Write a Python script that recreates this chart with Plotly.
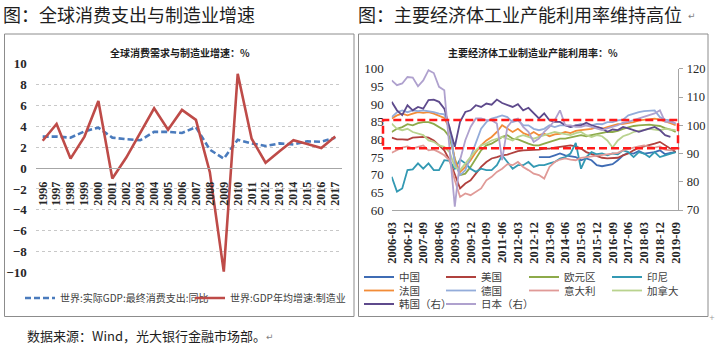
import plotly.graph_objects as go

W, H = 716, 356


def px(x):
    return x / W


def py(y):
    return 1 - y / H


# ---------------- left chart data ----------------
years = ["1996", "1997", "1998", "1999", "2000", "2001", "2002", "2003", "2004", "2005", "2006",
         "2007", "2008", "2009", "2010", "2011", "2012", "2013", "2014", "2015", "2016", "2017"]
consumption = [3.0, 3.0, 2.9, 3.5, 3.85, 2.9, 2.75, 2.65, 3.45, 3.45, 3.35,
               3.9, 1.75, 0.9, 2.7, 2.35, 2.1, 2.35, 2.25, 2.55, 2.5, 2.9]
manufacturing = [2.6, 4.2, 0.9, 3.0, 6.4, -1.0, 1.0, 3.4, 5.7, 3.65, 5.55,
                 4.6, -0.4, -9.9, 9.0, 2.8, 0.5, 1.6, 2.65, 2.3, 1.9, 3.0]

# ---------------- right chart data ----------------
quarters = [f"{y}-{m:02d}" for y in range(2006, 2020) for m in (3, 6, 9, 12)][:55]
quarter_ticks = quarters[::3]

china = [None] * 28 + [
    75.0, 75.0, 75.0, 75.5,
    76.0, 75.5, 75.2, 75.0,
    74.1, 74.6, 74.1, 72.7,
    72.4, 72.7, 73.0, 74.1,
    75.5, 76.2, 76.0, 76.7,
    76.0, 76.2, 76.4, 76.9,
    75.8, 76.2, 76.4]
usa = [80.5, 80.0, 80.0, 79.9,
       80.5, 80.7, 80.7, 80.5,
       79.7, 78.3, 76.9, 74.1,
       69.9, 66.1, 67.5, 68.4,
       70.3, 72.2, 73.6, 74.6,
       75.0, 75.5, 75.7, 76.2,
       76.7, 76.9, 76.9, 77.1,
       77.1, 77.4, 77.4, 77.7,
       77.9, 78.3, 78.3, 78.0,
       77.4, 76.4, 75.8, 75.2,
       74.8, 74.6, 74.6, 74.8,
       75.5, 76.0, 76.9, 77.7,
       78.0, 78.3, 78.8, 79.3,
       78.3, 77.4, 76.4]
euro = [82.1, 83.0, 83.5, 84.3,
        84.0, 84.6, 84.9, 84.9,
        84.4, 83.5, 82.6, 80.7,
        74.6, 69.9, 70.3, 72.2,
        74.6, 76.9, 78.3, 78.8,
        79.7, 80.7, 81.2, 80.2,
        80.0, 79.3, 78.8, 78.3,
        78.3, 78.8, 79.3, 79.7,
        80.2, 80.2, 80.5, 80.7,
        81.2, 80.9, 81.2, 81.4,
        81.6, 82.1, 82.1, 82.4,
        83.0, 83.5, 83.8, 84.0,
        84.2, 84.2, 84.0, 83.8,
        83.2, 82.8, 82.1]
indonesia = [69.4, 65.2, 66.1, 71.3,
             71.5, 73.2, 71.7, 73.2,
             71.3, 71.3, 74.1, 73.9,
             71.7, 74.3, 73.2, 71.7,
             70.8, 71.7, 71.3, 71.3,
             72.7, 75.5, 73.6, 71.7,
             72.7, 72.7, 73.6, 72.2,
             72.7, 72.7, 73.2, 73.6,
             74.6, 75.0, 76.0, 79.0,
             71.7, 75.0, 76.4, 75.8,
             76.0, 75.5, 76.0, 75.8,
             76.9, 76.4, 75.0, 76.4,
             76.0, 75.0, 76.4, 75.0,
             75.5, 76.0, 76.4]
france = [85.9, 86.8, 87.3, 86.8,
          87.3, 87.7, 87.5, 87.7,
          87.3, 86.8, 86.1, 83.0,
          74.1, 70.8, 72.2, 74.1,
          76.4, 78.3, 79.7, 80.7,
          82.1, 84.0, 83.0, 82.1,
          83.0, 81.8, 81.2, 82.1,
          81.2, 81.6, 80.9, 81.4,
          81.6, 82.1, 81.8, 82.4,
          82.6, 82.8, 83.0, 83.5,
          83.0, 83.5, 84.0, 84.3,
          84.4, 84.6, 84.9, 85.4,
          85.6, 85.9, 85.9, 85.6,
          85.2, 84.6, 84.0]
germany = [86.3, 87.7, 88.2, 87.7,
           88.2, 88.0, 88.2, 88.0,
           87.7, 87.3, 87.1, 83.5,
           73.2, 69.9, 71.3, 75.0,
           79.3, 83.0, 84.9, 85.9,
           86.3, 86.8, 86.3, 84.9,
           85.4, 84.0, 84.0, 83.0,
           82.6, 83.0, 84.0, 83.5,
           84.0, 84.0, 83.5, 84.0,
           84.4, 84.0, 84.0, 84.4,
           84.3, 84.9, 84.9, 85.4,
           85.6, 86.8, 87.3, 87.7,
           88.0, 88.0, 88.2, 86.3,
           85.6, 85.4, 84.4]
italy = [76.2, 76.9, 77.7, 78.0,
         77.4, 77.9, 78.3, 76.9,
         77.1, 76.4, 75.5, 74.1,
         68.4, 63.7, 64.7, 64.2,
         65.1, 66.1, 68.4, 69.4,
         70.8, 71.7, 73.0, 72.7,
         73.6, 72.2, 71.3, 70.3,
         69.9, 68.9, 72.2, 73.6,
         74.3, 74.6, 74.3, 74.1,
         74.8, 75.0, 75.3, 75.5,
         75.7, 75.8, 76.0, 76.2,
         76.9, 77.4, 77.7, 78.0,
         78.3, 77.9, 77.7, 78.0,
         77.1, 76.9, 77.4]
canada = [84.5, 83.0, 82.6, 83.0,
          82.1, 81.6, 81.2, 79.7,
          79.3, 78.3, 77.9, 76.4,
          72.2, 71.3, 73.2, 75.0,
          76.9, 78.3, 78.8, 79.7,
          80.2, 80.7, 80.2, 79.7,
          80.7, 81.2, 80.7, 80.2,
          80.7, 81.2, 81.6, 82.1,
          81.8, 81.6, 81.2, 81.8,
          82.1, 81.2, 80.7, 81.2,
          80.9, 79.7, 77.7, 79.7,
          80.9, 81.4, 82.1, 82.4,
          82.8, 83.0, 82.8, 82.6,
          83.0, 82.8, 82.6]
korea = [108.3, 105.3, 103.6, 107.1,
         105.3, 106.5, 105.9, 108.9,
         109.1, 108.3, 105.9, 99.4,
         92.4, 101.2, 104.7, 105.3,
         107.1, 106.5, 107.7, 107.3,
         109.1, 107.9, 107.1, 106.5,
         107.5, 105.3, 106.2, 104.2,
         102.4, 104.2, 101.8, 101.2,
         101.2, 100.0, 99.4, 100.0,
         100.0, 100.9, 100.0, 99.4,
         98.9, 97.7, 98.5, 98.3,
         99.4, 98.9, 98.3, 97.7,
         98.3, 98.9, 99.4, 98.3,
         96.5, 95.9, None]
japan = [115.9, 114.2, 114.8, 117.1,
         116.9, 113.8, 115.9, 119.5,
         118.5, 113.6, 112.4, 93.0,
         71.2, 87.7, 94.7, 99.4,
         102.4, 102.4, 101.8, 101.8,
         100.6, 87.7, 99.4, 101.8,
         102.4, 99.4, 97.7, 94.1,
         95.3, 97.7, 99.4, 101.8,
         105.3, 100.0, 100.0, 99.4,
         99.4, 100.0, 99.4, 98.9,
         98.3, 98.9, 99.4, 100.0,
         100.9, 101.2, 101.8, 102.4,
         103.2, 103.6, 104.2, 105.3,
         101.2, 101.2, 100.6]

CJK = "Noto Sans CJK SC"
SERIF = "Liberation Serif"

fig = go.Figure()

# ---------------- left chart traces ----------------
fig.add_trace(go.Scatter(
    x=years, y=consumption, mode="lines", name="世界:实际GDP:最终消费支出:同比",
    line=dict(color="#4A7BBD", width=2.6, dash="6px,3px"),
    xaxis="x", yaxis="y", legend="legend"))
fig.add_trace(go.Scatter(
    x=years, y=manufacturing, mode="lines", name="世界:GDP年均增速:制造业",
    line=dict(color="#BE4B48", width=2.6),
    xaxis="x", yaxis="y", legend="legend2"))

# ---------------- right chart traces ----------------
right_series = [
    ("中国", china, "#3F6CB4", "y2"),
    ("美国", usa, "#B0413E", "y2"),
    ("欧元区", euro, "#8DAA4A", "y2"),
    ("印尼", indonesia, "#3399B3", "y2"),
    ("法国", france, "#F28C38", "y2"),
    ("德国", germany, "#93ACDA", "y2"),
    ("意大利", italy, "#E09A97", "y2"),
    ("加拿大", canada, "#B9D38E", "y2"),
    ("韩国（右）", korea, "#5E4A8C", "y3"),
    ("日本（右）", japan, "#AFA1CE", "y3"),
]

legend_cols = [399, 481, 564, 647]
legend_rows = [277, 290.5, 304]
legends = {}

for k, (name, vals, color, yax) in enumerate(right_series):
    lg = f"legend{k + 3}"
    fig.add_trace(go.Scatter(
        x=quarters, y=vals, mode="lines", name=name,
        line=dict(color=color, width=1.8),
        xaxis="x2", yaxis=yax, legend=lg, connectgaps=False))
    legends[lg] = dict(
        x=px(legend_cols[k % 4] - 40), y=py(legend_rows[k // 4]),
        xanchor="left", yanchor="middle", orientation="h",
        bgcolor="rgba(0,0,0,0)", borderwidth=0, itemwidth=30,
        font=dict(family=CJK, size=10.5, color="#404040"))

legends["legend"] = dict(
    x=px(60 - 40), y=py(298), xanchor="left", yanchor="middle", orientation="h",
    bgcolor="rgba(0,0,0,0)", borderwidth=0, itemwidth=30,
    font=dict(family=CJK, size=10, color="#404040"))
legends["legend2"] = dict(
    x=px(230 - 40), y=py(298), xanchor="left", yanchor="middle", orientation="h",
    bgcolor="rgba(0,0,0,0)", borderwidth=0, itemwidth=30,
    font=dict(family=CJK, size=10, color="#404040"))

# ---------------- axes ----------------
left_ydom = [py(272.7), py(63.3)]
right_ydom = [py(210), py(68.8)]

fig.update_layout(
    width=W, height=H,
    margin=dict(l=0, r=0, t=0, b=0, autoexpand=False),
    paper_bgcolor="white", plot_bgcolor="rgba(0,0,0,0)",
    showlegend=True,
    xaxis=dict(
        type="category", domain=[px(35.7), px(342.2)], range=[-0.5, 21.5],
        anchor="free", position=(left_ydom[0] + left_ydom[1]) / 2,
        showgrid=False, zeroline=False, showline=True, linecolor="#A6A6A6", linewidth=1,
        ticks="", tickangle=-90, ticklabelstandoff=8,
        tickmode="array", tickvals=years, ticktext=years,
        tickfont=dict(family=SERIF, size=12, color="#262626", weight="bold")),
    yaxis=dict(
        domain=left_ydom, range=[-10, 10], dtick=2, anchor="x",
        showgrid=True, gridcolor="#C8C8C8", griddash="dot", gridwidth=1,
        zeroline=False, showline=False, ticks="", ticklabelstandoff=8,
        tickfont=dict(family=SERIF, size=13, color="#262626", weight="bold")),
    xaxis2=dict(
        type="category", domain=[px(391.7), px(678.3)], range=[0, 54.5],
        anchor="y2", showgrid=False, zeroline=False,
        showline=True, linecolor="#A6A6A6", linewidth=1, ticks="",
        tickmode="array", tickvals=quarter_ticks, ticktext=quarter_ticks,
        tickangle=-90, ticklabelstandoff=6,
        tickfont=dict(family=SERIF, size=12.5, color="#262626", weight="bold")),
    yaxis2=dict(
        domain=right_ydom, range=[60, 100], dtick=5, anchor="x2",
        showgrid=False, zeroline=False, showline=False, ticks="", ticklabelstandoff=7,
        tickfont=dict(family=SERIF, size=13, color="#262626")),
    yaxis3=dict(
        range=[70, 120], dtick=10, anchor="x2", overlaying="y2", side="right",
        showgrid=False, zeroline=False, showline=True, linecolor="#A6A6A6", linewidth=1,
        ticks="outside", ticklen=4, tickcolor="#A6A6A6", ticklabelstandoff=1,
        tickfont=dict(family=SERIF, size=12.5, color="#262626")),
    **legends,
)

# ---------------- frames and the highlight box ----------------
shapes = [
    dict(type="rect", xref="paper", yref="paper",
         x0=px(4.5), x1=px(354), y0=py(316.5), y1=py(34),
         line=dict(color="#8C8C8C", width=1)),
    dict(type="rect", xref="paper", yref="paper",
         x0=px(358.5), x1=px(708), y0=py(316.5), y1=py(34),
         line=dict(color="#8C8C8C", width=1)),
    dict(type="rect", xref="paper", yref="paper",
         x0=px(383), x1=px(678), y0=py(148.3), y1=py(120),
         line=dict(color="#FF1A1A", width=2.5, dash="8px,4px")),
]
fig.update_layout(shapes=shapes)

# ---------------- texts ----------------
ann = [
    dict(text="图：全球消费支出与制造业增速", x=px(1), y=py(14),
         font=dict(family=CJK, size=18, color="#1E1E1E")),
    dict(text="图：主要经济体工业产能利用率维持高位", x=px(356), y=py(14),
         font=dict(family=CJK, size=18, color="#1E1E1E")),
    dict(text="↵", x=px(686), y=py(16),
         font=dict(family="DejaVu Sans", size=9, color="#7F7F7F")),
    dict(text="<b>全球消费需求与制造业增速：%</b>", x=px(180), y=py(53), xanchor="center",
         font=dict(family=CJK, size=10, color="#1E1E1E")),
    dict(text="<b>主要经济体工业制造业产能利用率：%</b>", x=px(533), y=py(53), xanchor="center",
         font=dict(family=CJK, size=10, color="#1E1E1E")),
    dict(text="数据来源：Wind，光大银行金融市场部。", x=px(25), y=py(335),
         font=dict(family=CJK, size=13, color="#1E1E1E")),
    dict(text="↵", x=px(264), y=py(337),
         font=dict(family="DejaVu Sans", size=9, color="#7F7F7F")),
    dict(text="+", x=px(707), y=py(318),
         font=dict(family="DejaVu Sans", size=7, color="#9A9A9A")),
]
for a in ann:
    a.setdefault("xanchor", "left")
    a.update(xref="paper", yref="paper", yanchor="middle", showarrow=False)
fig.update_layout(annotations=ann)

fig.write_html(
    "out.html",
    config={"displayModeBar": False},
    post_script="document.body.style.margin='0px';document.body.style.padding='0px';",
)
